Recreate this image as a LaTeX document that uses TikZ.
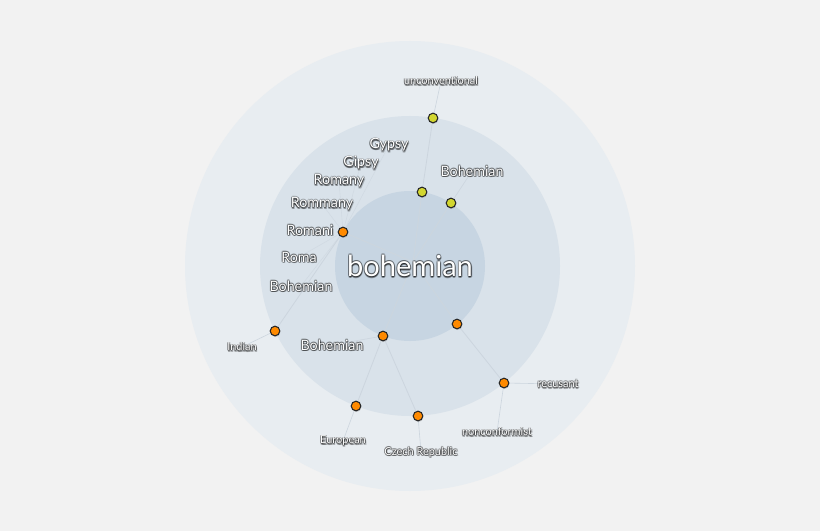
\documentclass[tikz,border=0pt]{standalone}
\usepackage{fontspec}
\setmainfont{Lato}
\usetikzlibrary{shadows}
\pgfdeclarelayer{back}
\pgfdeclarelayer{edges}
\pgfsetlayers{back,edges,main}
\definecolor{bgc}{HTML}{F2F2F2}
\definecolor{outerc}{HTML}{E8EDF1}
\definecolor{midc}{HTML}{D9E2EA}
\definecolor{innerc}{HTML}{C7D5E2}
\definecolor{edgec}{HTML}{CCD5DE}
\definecolor{orangec}{HTML}{FF8A00}
\definecolor{yellowc}{HTML}{D2D630}
\newcommand\glowlabel[4]{%
  \foreach \dx/\dy [count=\k] in {0.7/0,-0.7/0,0/0.7,0/-0.7,0.5/0.5,-0.5/0.5,0.5/-0.5,-0.5/-0.5,0.4/-1.1,1.0/-0.9,-0.2/-1.2}{
    \node[#3, text=black, opacity=0.22, xshift=\dx pt, yshift=\dy pt] (#1s\k) at (#2) {#4};
  }
  \node[#3, text=white] (#1) at (#2) {#4};
}
\begin{document}
\begin{tikzpicture}[x=0.75pt,y=-0.75pt,
  big/.style={inner sep=0pt, font=\fontsize{21.8}{24}\selectfont},
  mid/.style={inner sep=0pt, font=\fontsize{10.7}{12}\selectfont},
  small/.style={inner sep=0pt, font=\fontsize{8.2}{9}\selectfont},
  dot/.style={circle, minimum size=7.2pt, inner sep=0pt, draw=black!85, line width=0.8pt,
    drop shadow={shadow xshift=0.4pt, shadow yshift=-0.9pt, opacity=0.35}},
  odot/.style={dot, fill=orangec},
  ydot/.style={dot, fill=yellowc},
  edge/.style={draw=edgec, line width=0.6pt},
  ledge/.style={draw=edgec, line width=0.45pt}]
\begin{pgfonlayer}{back}
\fill[bgc] (0,0) rectangle (820,531);
\fill[outerc] (410,266) circle (225);
\fill[midc] (410,266) circle (150);
\fill[innerc] (410,266) circle (75);
\end{pgfonlayer}
\useasboundingbox (0,0) rectangle (820,531);

\coordinate (hub) at (413,262);
% dot nodes
\node[ydot] (nUnc) at (433,118) {};
\node[ydot] (nY1) at (422,192) {};
\node[ydot] (nY2) at (451,203) {};
\node[odot] (nRomani) at (343,232) {};
\node[odot] (nIndian) at (275,331) {};
\node[odot] (nBoh) at (383,336) {};
\node[odot] (nO) at (457,324) {};
\node[odot] (nRec) at (504,383) {};
\node[odot] (nEur) at (356,406) {};
\node[odot] (nCz) at (418,416) {};

% labels
\glowlabel{lCenter}{410,266}{big}{bohemian}
\glowlabel{lUnc}{441,81}{small}{unconventional}
\glowlabel{lGypsy}{389,145}{mid}{Gypsy}
\glowlabel{lGipsy}{361,163}{mid}{Gipsy}
\glowlabel{lRomany}{339,181}{mid}{Romany}
\glowlabel{lRommany}{322,204}{mid}{Rommany}
\glowlabel{lRomani}{310,230}{mid}{Romani}
\glowlabel{lRoma}{299,257}{mid}{Roma}
\glowlabel{lBohA}{301,286}{mid}{Bohemian}
\glowlabel{lBohB}{472,171}{mid}{Bohemian}
\glowlabel{lBohC}{332,345}{mid}{Bohemian}
\glowlabel{lIndian}{242,347}{small}{Indian}
\glowlabel{lEur}{343,441}{small}{European}
\glowlabel{lCz}{421,452}{small}{Czech Republic}
\glowlabel{lNon}{497,432}{small}{nonconformist}
\glowlabel{lRec}{558,384}{small}{recusant}

% edges
\begin{pgfonlayer}{edges}
\draw[edge] (hub) -- (nY1.center);
\draw[edge] (hub) -- (nY2.center);
\draw[edge] (hub) -- (nRomani.center);
\draw[edge] (hub) -- (nBoh.center);
\draw[edge] (hub) -- (nO.center);
\draw[edge] (nY1.center) -- (nUnc.center);
\draw[edge] (nRomani.center) -- (nIndian.center);
\draw[edge] (nBoh.center) -- (nEur.center);
\draw[edge] (nBoh.center) -- (nCz.center);
\draw[edge] (nO.center) -- (nRec.center);
% label connectors
\draw[ledge] (nUnc.center) -- (lUnc.center);
\draw[ledge] (nY2.center) -- (lBohB.center);
\draw[ledge] (nBoh.center) -- (lBohC.center);
\draw[ledge] (nIndian.center) -- (lIndian.center);
\draw[ledge] (nEur.center) -- (lEur.center);
\draw[ledge] (nCz.center) -- (lCz.center);
\draw[ledge] (nRec.center) -- (lNon.center);
\draw[ledge] (nRec.center) -- (lRec.center);
\foreach \t in {lGypsy,lGipsy,lRomany,lRommany,lRoma,lBohA}
  \draw[ledge, draw opacity=0.6] (nRomani.center) -- (\t.center);
\end{pgfonlayer}
\end{tikzpicture}
\end{document}
